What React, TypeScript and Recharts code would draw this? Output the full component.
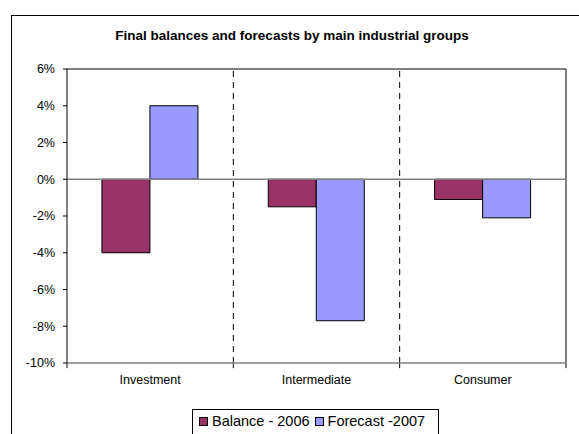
import React from 'react';
import { BarChart, Bar, XAxis, YAxis, ReferenceLine } from 'recharts';

const title = 'Final balances and forecasts by main industrial groups';
const categories = ['Investment', 'Intermediate', 'Consumer'];
const balance2006 = [-4.0, -1.5, -1.1];
const forecast2007 = [4.0, -7.7, -2.1];
const seriesNames = ['Balance - 2006', 'Forecast -2007'];
const seriesColors = ['#993366', '#9999FF'];
const yTicks = [-10, -8, -6, -4, -2, 0, 2, 4, 6];
const yMin = -10;
const yMax = 6;
const tickDepth = -10.28;

const data = categories.map((c, i) => ({
  category: c,
  balance: balance2006[i],
  forecast: forecast2007[i],
}));

const FONT = '"Liberation Sans", Arial, sans-serif';
const lastCat = categories[categories.length - 1];

export default function App() {
  return (
    <div
      style={{
        position: 'absolute',
        left: 0,
        top: 0,
        width: 579,
        height: 434,
        overflow: 'hidden',
        background: '#fff',
        fontFamily: FONT,
      }}
    >
      <div
        style={{
          position: 'absolute',
          left: 11,
          top: 15,
          width: 600,
          height: 500,
          border: '1px solid #000',
          boxSizing: 'border-box',
        }}
      />
      <div
        style={{
          position: 'absolute',
          left: 0,
          width: 584,
          top: 28,
          textAlign: 'center',
          fontWeight: 'bold',
          fontSize: 13.5,
          color: '#000',
        }}
      >
        {title}
      </div>
      <div style={{ position: 'absolute', left: 0, top: 0 }}>
        <BarChart
          width={579}
          height={434}
          data={data}
          margin={{ top: 69, right: 13, left: 10, bottom: 41 }}
          barCategoryGap="21%"
          barGap={0}
        >
          <XAxis
            dataKey="category"
            height={30}
            stroke="#808080"
            strokeWidth={1.5}
            tickLine={false}
            tickSize={0}
            tickMargin={12}
            interval={0}
            tick={{ fill: '#000', fontSize: 12.5, fontFamily: FONT }}
          />
          <YAxis
            domain={[yMin, yMax]}
            ticks={yTicks}
            width={57}
            interval={0}
            stroke="#000"
            tickFormatter={(v: number) => `${v}%`}
            tickSize={4}
            tickMargin={8}
            tick={{ fill: '#000', fontSize: 12.5, fontFamily: FONT }}
          />
          {categories.slice(1).map((c) => (
            <ReferenceLine
              key={'d' + c}
              x={c}
              position="start"
              stroke="#000"
              strokeDasharray="6 5"
            />
          ))}
          {categories.map((c) => (
            <ReferenceLine
              key={'t' + c}
              segment={[
                { x: c, y: yMin },
                { x: c, y: tickDepth },
              ]}
              position="start"
              ifOverflow="visible"
              stroke="#000"
            />
          ))}
          <ReferenceLine
            segment={[
              { x: lastCat, y: yMin },
              { x: lastCat, y: tickDepth },
            ]}
            position="end"
            ifOverflow="visible"
            stroke="#000"
          />
          <ReferenceLine y={yMax} stroke="#000" />
          <ReferenceLine x={lastCat} position="end" stroke="#000" />
          <ReferenceLine y={0} stroke="#808080" strokeWidth={1.5} />
          <Bar
            dataKey="balance"
            name={seriesNames[0]}
            fill={seriesColors[0]}
            stroke="#000"
            strokeWidth={1}
            isAnimationActive={false}
          />
          <Bar
            dataKey="forecast"
            name={seriesNames[1]}
            fill={seriesColors[1]}
            stroke="#000"
            strokeWidth={1}
            isAnimationActive={false}
          />
        </BarChart>
      </div>
      <div
        style={{
          position: 'absolute',
          left: 192,
          top: 409,
          width: 247,
          height: 40,
          border: '1px solid #000',
          boxSizing: 'border-box',
          display: 'flex',
          alignItems: 'flex-start',
          paddingTop: 3,
          paddingLeft: 6,
          fontSize: 14.5,
          color: '#000',
          whiteSpace: 'nowrap',
        }}
      >
        {seriesNames.map((n, i) => (
          <span key={n} style={{ display: 'inline-flex', alignItems: 'center', marginRight: 5 }}>
            <span
              style={{
                display: 'inline-block',
                width: 9,
                height: 9,
                background: seriesColors[i],
                border: '1px solid #000',
                boxSizing: 'border-box',
                marginRight: 4,
              }}
            />
            {n}
          </span>
        ))}
      </div>
    </div>
  );
}
